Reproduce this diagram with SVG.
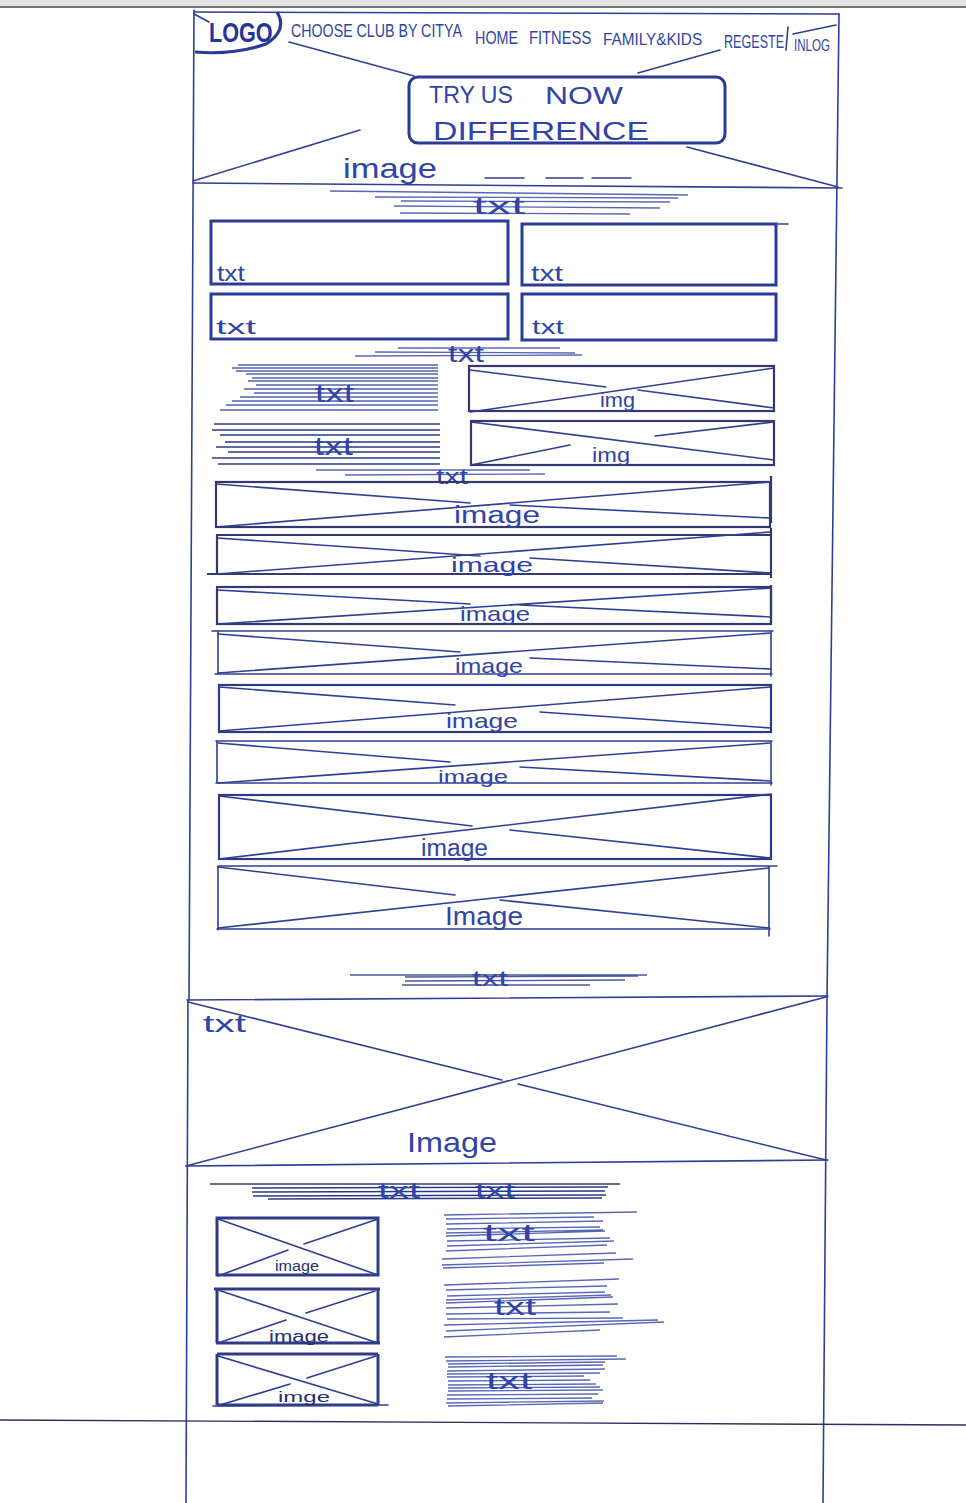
<svg xmlns="http://www.w3.org/2000/svg" width="966" height="1503" viewBox="0 0 966 1503">
<style>
.l{stroke:#2f3f94;stroke-width:1.6;fill:none;stroke-linecap:round}
.b{stroke:#2b3a96;stroke-width:3;fill:none}
.k{stroke:#33386f;stroke-width:2.2;fill:none}
.t{stroke:#3a4ca8;stroke-width:1.3;fill:none;opacity:.85}
.d{stroke:#2b3a80;stroke-width:1.5;fill:none}
text{font-family:"Liberation Sans","DejaVu Sans",sans-serif;fill:#2f44a6;font-weight:400}
</style>
<rect width="966" height="1503" fill="#fff"/>
<rect width="966" height="6" fill="#e4e4e4"/><path d="M0 7H966" stroke="#444" stroke-width="1.4"/>
<g id="frame">
<path class="l" d="M194 10L189 1000M188 1000L186 1503"/>
<path class="l" d="M839 14L827 1000L823 1503"/>
<path class="l" d="M194 12L839 14M193 183L842 188M187 1000L828 996M186 1166L828 1160"/>
<path d="M0 1420L966 1425" stroke="#2a2f60" stroke-width="1.4"/>
</g>
<g id="connectors">
<path class="l" d="M289 42L414 76M638 73L720 50M193 181L360 130M687 147L838 187"/>
<path class="l" d="M188 1002L502 1080M518 1084L826 1160M186 1166L826 997"/>
</g>
<g id="logo">
<path class="b" stroke-width="2" d="M277 12Q288 30 266 44Q235 55 195 52"/><path class="l" d="M194 14L209 22"/>
<text transform="translate(209 42) scale(.8 1)" font-size="27" style="fill:#24349a;font-weight:700">LOGO</text>
</g>
<g id="nav">
<text transform="translate(291 37) scale(.79 1)" font-size="18">CHOOSE CLUB BY CITYA</text>
<text transform="translate(475 44) scale(.8 1)" font-size="18">HOME</text>
<text transform="translate(529 44) scale(.82 1)" font-size="18">FITNESS</text>
<text transform="translate(603 45) scale(.9 1)" font-size="17">FAMILY&amp;KIDS</text>
<text transform="translate(724 48) scale(.7 1)" font-size="18">REGESTE</text>
<path class="l" d="M788 27L786 50"/>
<text transform="translate(794 51) scale(.72 1)" font-size="16">INLOG</text>
<path class="l" d="M793 34L836 25"/>
</g>
<g id="cta">
<rect x="409" y="77" width="316" height="66" rx="9" class="b" stroke-width="2.4"/>
<text x="429" y="103" font-size="24" textLength="84" lengthAdjust="spacingAndGlyphs">TRY US</text>
<text x="545" y="104" font-size="24" textLength="78" lengthAdjust="spacingAndGlyphs">NOW</text>
<text x="433" y="140" font-size="25" textLength="216" lengthAdjust="spacingAndGlyphs">DIFFERENCE</text>
</g>
<g id="hero-label">
<text x="343" y="178" font-size="28" textLength="94" lengthAdjust="spacingAndGlyphs">image</text>
<path class="l" d="M485 178H524M546 178H583M592 178H631"/>
</g>
<g id="heading1">
<path class="t" d="M330 191L688 195M375 197L678 198M401 201L670 202M394 206L660 208M400 213L630 214"/>
<text x="473" y="214" font-size="24" textLength="52" lengthAdjust="spacingAndGlyphs">txt</text>
</g>
<g id="box1"><rect x="211" y="221" width="297" height="63" class="b"/><text x="217" y="281" font-size="22" textLength="28" lengthAdjust="spacingAndGlyphs">txt</text></g>
<g id="box2"><rect x="522" y="224" width="254" height="61" class="b"/><path class="l" d="M776 224H788"/><text x="531" y="281" font-size="22" textLength="32" lengthAdjust="spacingAndGlyphs">txt</text></g>
<g id="box3"><rect x="211" y="294" width="297" height="45" class="b"/><text x="216" y="334" font-size="20" textLength="40" lengthAdjust="spacingAndGlyphs">txt</text></g>
<g id="box4"><rect x="522" y="294" width="254" height="46" class="b"/><text x="532" y="334" font-size="20" textLength="32" lengthAdjust="spacingAndGlyphs">txt</text></g>
<g id="heading2">
<path class="t" d="M398 348L560 348M375 352L575 353M355 356L582 355"/>
<text x="448" y="362" font-size="24" textLength="36" lengthAdjust="spacingAndGlyphs">txt</text>
</g>
<g id="text-block1">
<path class="t" style="stroke:#3446a0" d="M238 365H438M232 368H438M236 371H438M246 374H438M252 378H438M248 381H438M256 385H438M244 389H438M254 393H438M240 397H438M232 401H438M226 405H438M220 410H438"/>
<text x="315" y="402" font-size="26" textLength="39" lengthAdjust="spacingAndGlyphs">txt</text>
</g>
<g id="text-block2">
<path class="d" d="M214 424H440M212 430H440M220 435H440M225 442H440M216 447H440M228 452H440M212 458H440M218 464H440"/>
<text x="314" y="455" font-size="26" textLength="39" lengthAdjust="spacingAndGlyphs">txt</text>
</g>
<g id="img1"><rect x="469" y="366" width="305" height="45" class="k"/><path class="l" d="M470 370L606 387M638 390L774 408M470 412L774 368"/><text x="600" y="407" font-size="20" textLength="35" lengthAdjust="spacingAndGlyphs">img</text></g>
<g id="img2"><rect x="471" y="421" width="303" height="44" class="k"/><path class="l" d="M471 422L774 460M471 465L570 445M655 436L774 422"/><text x="592" y="462" font-size="20" textLength="38" lengthAdjust="spacingAndGlyphs">img</text></g>
<g id="heading3">
<path class="t" d="M316 470L530 470M345 475L545 474"/>
<text x="436" y="484" font-size="22" textLength="32" lengthAdjust="spacingAndGlyphs">txt</text>
</g>
<g id="wide1"><rect x="216" y="482" width="554" height="45" class="k"/><path class="k" stroke-width="5" d="M771 476V523"/><path class="l" d="M216 484L470 503M510 505L770 518M216 527L770 482"/><text x="454" y="523" font-size="23" textLength="86" lengthAdjust="spacingAndGlyphs">image</text></g>
<g id="wide2"><path class="k" d="M216 535H772M207 574H772M217 535V574"/><path class="k" stroke-width="4" d="M771 528V578"/><path class="l" d="M217 538L480 556M530 558L770 573M217 574L770 532"/><text x="451" y="572" font-size="21" textLength="82" lengthAdjust="spacingAndGlyphs">image</text></g>
<g id="wide3"><rect x="217" y="587" width="554" height="37" class="k"/><path class="k" stroke-width="3" d="M771 585V622"/><path class="l" d="M217 590L470 604M520 605L771 617M217 624L771 588"/><text x="460" y="621" font-size="21" textLength="70" lengthAdjust="spacingAndGlyphs">image</text></g>
<g id="wide4"><path class="l" stroke-width="2" d="M212 631H773M215 674H772M218 631V674M771 631V676"/><path class="l" d="M218 634L460 652M530 658L771 669M218 673L771 633"/><text x="455" y="673" font-size="21" textLength="68" lengthAdjust="spacingAndGlyphs">image</text></g>
<g id="wide5"><rect x="219" y="685" width="552" height="47" class="k" style="stroke:#2e3a86"/><path class="l" d="M219 687L455 705M540 712L771 728M219 731L771 687"/><text x="446" y="728" font-size="21" textLength="72" lengthAdjust="spacingAndGlyphs">image</text></g>
<g id="wide6"><path class="l" stroke-width="2" d="M216 741H772M216 783H772M217 741V783M771 741V785"/><path class="l" d="M218 743L450 762M520 767L770 781M218 783L770 743"/><text x="438" y="783" font-size="19" textLength="70" lengthAdjust="spacingAndGlyphs">image</text></g>
<g id="wide7"><rect x="219" y="795" width="552" height="64" class="k" style="stroke:#2e3a86"/><path class="l" d="M219 796L472 826M510 830L770 858M219 859L771 794"/><text x="421" y="856" font-size="23" textLength="67" lengthAdjust="spacingAndGlyphs">image</text></g>
<g id="wide8"><path class="l" stroke-width="1.8" d="M218 866H777M217 929H770M218 866V930M769 866V936"/><path class="l" d="M218 867L455 895M500 900L769 928M218 928L769 868"/><text x="445" y="925" font-size="25" textLength="78" lengthAdjust="spacingAndGlyphs">Image</text></g>
<g id="heading4">
<path class="t" style="stroke:#2b3a88" d="M350 975H647M405 977L638 976M405 981L625 980M402 985H590"/>
<text x="472" y="986" font-size="22" textLength="36" lengthAdjust="spacingAndGlyphs">txt</text>
</g>
<g id="banner">
<text x="203" y="1032" font-size="24" textLength="43" lengthAdjust="spacingAndGlyphs">txt</text>
<text x="407" y="1152" font-size="28" textLength="90" lengthAdjust="spacingAndGlyphs">Image</text>
</g>
<g id="heading5">
<path class="d" d="M210 1184L620 1184M252 1188L608 1187M252 1192L605 1191M253 1196L606 1195M268 1199L602 1198"/>
<text x="378" y="1198" font-size="22" textLength="42" lengthAdjust="spacingAndGlyphs">txt</text>
<text x="475" y="1198" font-size="22" textLength="40" lengthAdjust="spacingAndGlyphs">txt</text>
</g>
<g id="thumb1"><rect x="217" y="1218" width="161" height="57" class="b" style="stroke:#2f3a88"/><path class="l" d="M218 1219L378 1275M378 1219L304 1244M288 1250L218 1276"/><text x="275" y="1271" font-size="15" style="fill:#25306f" textLength="44" lengthAdjust="spacingAndGlyphs">image</text></g>
<g id="thumb2"><path class="b" style="stroke:#2f3a88" d="M214 1289H380M216 1343H380M217 1289V1343M378 1289V1343"/><path class="l" d="M218 1290L378 1343M375 1291L306 1313M286 1320L218 1343"/><text x="269" y="1342" font-size="16" style="fill:#25306f" textLength="60" lengthAdjust="spacingAndGlyphs">image</text></g>
<g id="thumb3"><path class="b" style="stroke:#2f3a88" d="M217 1354H378M217 1405H378M217 1354V1405M378 1354V1405"/><path class="l" d="M218 1356L378 1404M376 1356L307 1378M290 1384L220 1405M213 1406L388 1405"/><text x="278" y="1402" font-size="15" style="fill:#25306f" textLength="52" lengthAdjust="spacingAndGlyphs">imge</text></g>
<g id="text-block3">
<path class="t" d="M444 1215L637 1212M446 1219L594 1217M446 1224L603 1221M447 1229L600 1227M446 1233L603 1230M446 1236L605 1231M447 1241L610 1238M447 1246L614 1241M446 1251L607 1245M442 1259L616 1253M442 1265L633 1259M443 1268L604 1263"/>
<text x="483" y="1241" font-size="24" textLength="52" lengthAdjust="spacingAndGlyphs">txt</text>
</g>
<g id="text-block4">
<path class="t" d="M444 1285L619 1279M446 1290L607 1286M447 1296L605 1292M446 1300L611 1295M446 1303L613 1297M446 1308L618 1304M446 1314L610 1312M447 1319L623 1318M444 1325L658 1320M446 1331L664 1322M444 1337L600 1330"/>
<text x="494" y="1315" font-size="24" textLength="42" lengthAdjust="spacingAndGlyphs">txt</text>
</g>
<g id="text-block5">
<path class="t" d="M445 1357L617 1356M446 1361L626 1359M448 1364L605 1362M448 1367L603 1365M447 1371L605 1369M447 1374L600 1373M447 1377L584 1376M448 1381L590 1380M448 1385L596 1384M448 1388L600 1387M448 1391L603 1390M447 1395L598 1394M447 1399L592 1398M446 1403L604 1401M448 1406L603 1403"/>
<text x="486" y="1389" font-size="24" textLength="46" lengthAdjust="spacingAndGlyphs">txt</text>
</g>
</svg>
